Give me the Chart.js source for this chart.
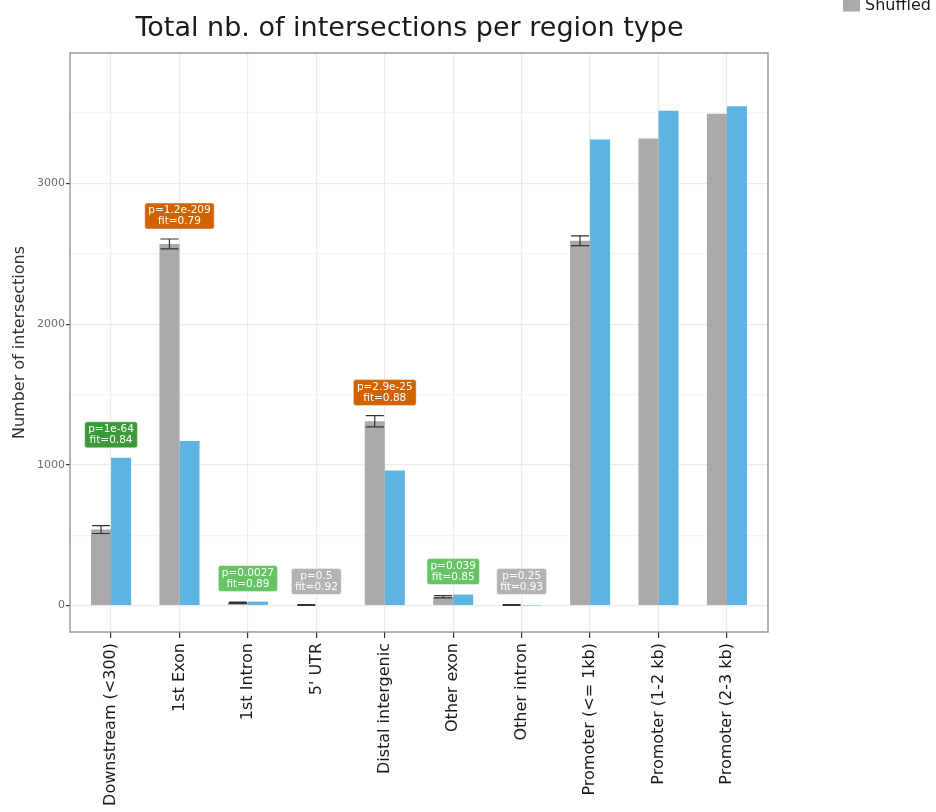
<!DOCTYPE html>
<html>
<head>
<meta charset="utf-8">
<title>Total nb. of intersections per region type</title>
<script src="https://cdn.jsdelivr.net/npm/chart.js@4.4.1/dist/chart.umd.min.js"></script>
<style>
  html, body { margin: 0; padding: 0; background: #ffffff; }
  canvas { display: block; }
</style>
</head>
<body>
<canvas id="c" width="936" height="812"></canvas>
<script>
// Region types on the x axis
const categories = [
  'Downstream (<300)', '1st Exon', '1st Intron', "5' UTR", 'Distal intergenic',
  'Other exon', 'Other intron', 'Promoter (<= 1kb)', 'Promoter (1-2 kb)', 'Promoter (2-3 kb)'
];
// Shuffled background counts and their spread
const shuffledValues = [540, 2570, 20, 4, 1310, 62, 4, 2593, 3319, 3495];
const shuffledErrors = [28, 35, 5, 3, 40, 8, 3, 35, 0, 0];
// Observed counts
const observedValues = [1050, 1170, 28, 0, 960, 78, 1, 3312, 3516, 3549];
// Enrichment test annotations
const pLabels   = ['p=1e-64', 'p=1.2e-209', 'p=0.0027', 'p=0.5', 'p=2.9e-25', 'p=0.039', 'p=0.25', null, null, null];
const fitLabels = ['fit=0.84', 'fit=0.79', 'fit=0.89', 'fit=0.92', 'fit=0.88', 'fit=0.85', 'fit=0.93', null, null, null];
const labelKinds = ['strong', 'depleted', 'weak', 'ns', 'depleted', 'weak', 'ns', null, null, null];
// Y axis gridline values; the major ones carry labels
const yTicksAll = [0, 500, 1000, 1500, 2000, 2500, 3000, 3500];
const yTicksMajor = [0, 1000, 2000, 3000];

const kindColors = {
  strong: '#3a9a3a',
  weak: '#66c466',
  depleted: '#d06300',
  ns: '#b3b3b3'
};

const FONT = "'DejaVu Sans', sans-serif";

const panelPlugin = {
  id: 'panel',
  afterDatasetsDraw(chart) {
    const ctx = chart.ctx;
    const y = chart.scales.y;
    const x = chart.scales.x;
    // error bars on shuffled bars
    const meta = chart.getDatasetMeta(0);
    ctx.save();
    ctx.strokeStyle = '#333333';
    ctx.lineWidth = 1.2;
    meta.data.forEach((bar, i) => {
      const e = shuffledErrors[i];
      if (!e) return;
      const v = shuffledValues[i];
      const y1 = y.getPixelForValue(v - e);
      const y2 = y.getPixelForValue(v + e);
      const half = bar.width * 0.45;
      ctx.beginPath();
      ctx.moveTo(bar.x, y1); ctx.lineTo(bar.x, y2);
      ctx.moveTo(bar.x - half, y1); ctx.lineTo(bar.x + half, y1);
      ctx.moveTo(bar.x - half, y2); ctx.lineTo(bar.x + half, y2);
      ctx.stroke();
    });
    ctx.restore();

    // annotation boxes
    ctx.save();
    ctx.font = '10.5px ' + FONT;
    ctx.textAlign = 'center';
    ctx.textBaseline = 'middle';
    categories.forEach((c, i) => {
      if (!pLabels[i]) return;
      const top = Math.min(
        y.getPixelForValue(shuffledValues[i] + shuffledErrors[i]),
        y.getPixelForValue(observedValues[i])
      );
      const cx = x.getPixelForValue(i);
      const cy = top - 23;
      const w = Math.max(ctx.measureText(pLabels[i]).width, ctx.measureText(fitLabels[i]).width) + 7;
      const h = 26;
      ctx.fillStyle = kindColors[labelKinds[i]];
      ctx.strokeStyle = 'rgba(255,255,255,0.45)';
      ctx.lineWidth = 1;
      ctx.beginPath();
      ctx.roundRect(cx - w / 2, cy - h / 2, w, h, 2.5);
      ctx.fill();
      ctx.stroke();
      ctx.fillStyle = '#ffffff';
      ctx.fillText(pLabels[i], cx, cy - 5.5);
      ctx.fillText(fitLabels[i], cx, cy + 5.5);
    });
    ctx.restore();
  },
  afterDraw(chart) {
    const ctx = chart.ctx;
    const a = chart.chartArea;
    ctx.save();
    // panel border
    ctx.strokeStyle = '#8a8a8a';
    ctx.lineWidth = 1.3;
    ctx.strokeRect(a.left, a.top, a.right - a.left, a.bottom - a.top);
    // title
    ctx.fillStyle = '#1a1a1a';
    ctx.font = '27px ' + FONT;
    ctx.textAlign = 'center';
    ctx.textBaseline = 'alphabetic';
    ctx.fillText('Total nb. of intersections per region type', 409.5, 36);
    // legend (only the shuffled key lies inside the canvas)
    ctx.fillStyle = '#aaaaaa';
    ctx.fillRect(843, -6, 17, 17.5);
    ctx.fillStyle = '#1a1a1a';
    ctx.font = '16px ' + FONT;
    ctx.textAlign = 'left';
    ctx.fillText('Shuffled', 865, 9.5);
    ctx.restore();
  }
};

new Chart(document.getElementById('c'), {
  type: 'bar',
  data: {
    datasets: [
      {
        label: 'Shuffled',
        data: shuffledValues.map((v, i) => ({ x: i, y: v })),
        backgroundColor: '#aaaaaa',
        borderWidth: 0
      },
      {
        label: 'Observed',
        data: observedValues.map((v, i) => ({ x: i, y: v })),
        backgroundColor: '#5db4e2',
        borderWidth: 0
      }
    ]
  },
  options: {
    responsive: false,
    animation: false,
    devicePixelRatio: 1,
    categoryPercentage: 0.586,
    barPercentage: 1.0,
    layout: { padding: { left: 0, top: 53, right: 168, bottom: 0 } },
    plugins: {
      legend: { display: false },
      tooltip: { enabled: false },
      title: { display: false }
    },
    scales: {
      x: {
        type: 'linear',
        min: -0.6,
        max: 9.6,
        offset: false,
        border: { display: false },
        grid: {
          offset: false,
          color: '#ebebeb',
          lineWidth: 1.2,
          tickColor: '#333333',
          tickLength: 6,
          drawTicks: true
        },
        ticks: {
          stepSize: 1,
          includeBounds: false,
          autoSkip: false,
          minRotation: 90,
          maxRotation: 90,
          padding: 5,
          color: '#1a1a1a',
          font: { family: FONT, size: 16 },
          callback: (v) => categories[v] !== undefined ? categories[v] : ''
        },
        afterBuildTicks(scale) {
          scale.ticks = categories.map((c, i) => ({ value: i }));
        },
        afterFit(scale) { scale.height = 180; }
      },
      y: {
        min: -188,
        max: 3927,
        border: { display: false },
        grid: {
          color: (c) => yTicksMajor.includes(c.tick.value) ? '#ebebeb' : '#f4f4f4',
          lineWidth: 1.2,
          tickColor: (c) => yTicksMajor.includes(c.tick.value) ? '#333333' : 'rgba(0,0,0,0)',
          tickLength: 4,
          drawTicks: true
        },
        ticks: {
          includeBounds: false,
          padding: 1,
          color: '#6b6b6b',
          font: { family: FONT, size: 11 },
          callback: (v) => yTicksMajor.includes(v) ? String(v) : ''
        },
        afterBuildTicks(scale) {
          scale.ticks = yTicksAll.map(v => ({ value: v }));
        },
        title: {
          display: true,
          text: 'Number of intersections',
          color: '#333333',
          font: { family: FONT, size: 16 },
          padding: { top: 10, bottom: 0 }
        },
        afterFit(scale) { scale.width = 70; }
      }
    }
  },
  plugins: [panelPlugin]
});
</script>
</body>
</html>
